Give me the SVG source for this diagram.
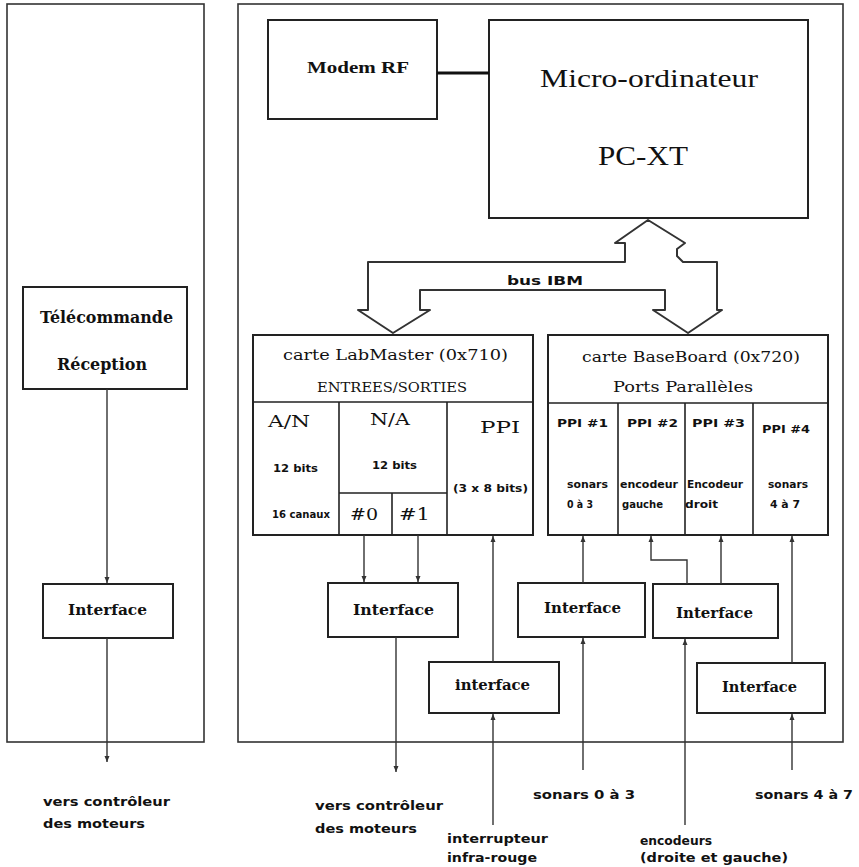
<svg xmlns="http://www.w3.org/2000/svg" width="859" height="867" viewBox="0 0 859 867">
<style>
.panel{fill:none;stroke:#333;stroke-width:1.6}
.box{fill:#fff;stroke:#222;stroke-width:2}
.div{fill:none;stroke:#222;stroke-width:1.6}
.conn{fill:none;stroke:#333;stroke-width:1.4}
.bus{fill:none;stroke:#333;stroke-width:2;stroke-linejoin:round}
.serif{font-family:"Liberation Serif","DejaVu Serif",serif;fill:#111}
.dserif{font-family:"DejaVu Serif","Liberation Serif",serif;fill:#111}
.lbl{font-family:"DejaVu Sans","Liberation Sans",sans-serif;font-weight:bold;fill:#111}
</style>
<defs>
<marker id="ah" viewBox="0 0 6 6" refX="6" refY="3" markerWidth="6" markerHeight="6" markerUnits="userSpaceOnUse" orient="auto">
<path d="M0,0.5 L6,3 L0,5.5z" fill="#333"/>
</marker>
</defs>
<rect width="859" height="867" fill="#fff"/>

<!-- enclosures: remote side and robot side -->
<g id="remote-side"><rect class="panel" x="7" y="4" width="197" height="738"/></g>
<g id="robot-side"><rect class="panel" x="238" y="4" width="605" height="738"/></g>

<g id="modem">
<rect class="box" x="268" y="20" width="169" height="99"/>
<text class="serif" x="307" y="73" font-size="17" font-weight="bold" textLength="102" lengthAdjust="spacingAndGlyphs">Modem RF</text>
</g>

<g id="pc">
<rect class="box" x="489" y="20" width="319" height="198"/>
<text class="serif" x="540" y="87" font-size="26" textLength="218" lengthAdjust="spacingAndGlyphs">Micro-ordinateur</text>
<text class="serif" x="598" y="165" font-size="27" textLength="90" lengthAdjust="spacingAndGlyphs">PC-XT</text>
</g>

<g id="labmaster">
<rect class="box" x="253" y="335" width="280" height="200"/>
<path class="div" d="M253,402H533M339,402V535M447,402V535M339,493H447M392,493V535"/>
<text class="dserif" x="283" y="360" font-size="15" textLength="225" lengthAdjust="spacingAndGlyphs">carte LabMaster (0x710)</text>
<text class="dserif" x="317" y="392" font-size="13" textLength="150" lengthAdjust="spacingAndGlyphs">ENTREES/SORTIES</text>
<text class="dserif" x="268" y="427" font-size="17" textLength="42" lengthAdjust="spacingAndGlyphs">A/N</text>
<text class="dserif" x="370" y="425" font-size="17" textLength="40" lengthAdjust="spacingAndGlyphs">N/A</text>
<text class="dserif" x="480" y="433" font-size="17" textLength="40" lengthAdjust="spacingAndGlyphs">PPI</text>
<text class="lbl" x="273" y="472" font-size="10" textLength="45" lengthAdjust="spacingAndGlyphs">12 bits</text>
<text class="lbl" x="372" y="469" font-size="10" textLength="45" lengthAdjust="spacingAndGlyphs">12 bits</text>
<text class="lbl" x="453" y="492" font-size="10" textLength="75" lengthAdjust="spacingAndGlyphs">(3 x 8 bits)</text>
<text class="lbl" x="272" y="518" font-size="10" textLength="58" lengthAdjust="spacingAndGlyphs">16 canaux</text>
<text class="dserif" x="350" y="520" font-size="17" textLength="28" lengthAdjust="spacingAndGlyphs">#0</text>
<text class="dserif" x="399" y="520" font-size="17" textLength="31" lengthAdjust="spacingAndGlyphs">#1</text>
</g>

<g id="baseboard">
<rect class="box" x="548" y="335" width="280" height="200"/>
<path class="div" d="M548,403H828M618,403V535M685,403V535M753,403V535"/>
<text class="dserif" x="582" y="362" font-size="15" textLength="218" lengthAdjust="spacingAndGlyphs">carte BaseBoard (0x720)</text>
<text class="dserif" x="613" y="392" font-size="15" textLength="140" lengthAdjust="spacingAndGlyphs">Ports Parallèles</text>
<text class="lbl" x="557" y="427" font-size="11" textLength="51" lengthAdjust="spacingAndGlyphs">PPI #1</text>
<text class="lbl" x="627" y="427" font-size="11" textLength="51" lengthAdjust="spacingAndGlyphs">PPI #2</text>
<text class="lbl" x="692" y="427" font-size="11" textLength="53" lengthAdjust="spacingAndGlyphs">PPI #3</text>
<text class="lbl" x="762" y="433" font-size="11" textLength="48" lengthAdjust="spacingAndGlyphs">PPI #4</text>
<text class="lbl" x="567" y="488" font-size="10" textLength="41" lengthAdjust="spacingAndGlyphs">sonars</text>
<text class="lbl" x="567" y="508" font-size="10" textLength="26" lengthAdjust="spacingAndGlyphs">0 à 3</text>
<text class="lbl" x="620" y="488" font-size="10" textLength="58" lengthAdjust="spacingAndGlyphs">encodeur</text>
<text class="lbl" x="622" y="508" font-size="10" textLength="41" lengthAdjust="spacingAndGlyphs">gauche</text>
<text class="lbl" x="687" y="488" font-size="10" textLength="56" lengthAdjust="spacingAndGlyphs">Encodeur</text>
<text class="lbl" x="685" y="508" font-size="10" textLength="33" lengthAdjust="spacingAndGlyphs">droit</text>
<text class="lbl" x="768" y="488" font-size="10" textLength="40" lengthAdjust="spacingAndGlyphs">sonars</text>
<text class="lbl" x="770" y="508" font-size="10" textLength="30" lengthAdjust="spacingAndGlyphs">4 à 7</text>
</g>

<g id="telecommande">
<rect class="box" x="23" y="287" width="164" height="102"/>
<text class="dserif" x="40" y="323" font-size="16" font-weight="bold" textLength="133" lengthAdjust="spacingAndGlyphs">Télécommande</text>
<text class="dserif" x="57" y="370" font-size="16" font-weight="bold" textLength="90" lengthAdjust="spacingAndGlyphs">Réception</text>
</g>

<g id="interface-remote">
<rect class="box" x="43" y="584" width="130" height="54"/>
<text class="dserif" x="68" y="615" font-size="15" font-weight="bold" textLength="79" lengthAdjust="spacingAndGlyphs">Interface</text>
</g>

<g id="interface-moteurs">
<rect class="box" x="328" y="583" width="130" height="54"/>
<text class="dserif" x="353" y="615" font-size="15" font-weight="bold" textLength="81" lengthAdjust="spacingAndGlyphs">Interface</text>
</g>

<g id="interface-ir">
<rect class="box" x="429" y="662" width="130" height="51"/>
<text class="dserif" x="455" y="690" font-size="15" font-weight="bold" textLength="75" lengthAdjust="spacingAndGlyphs">interface</text>
</g>

<g id="interface-sonars-0-3">
<rect class="box" x="518" y="583" width="127" height="54"/>
<text class="dserif" x="544" y="613" font-size="15" font-weight="bold" textLength="77" lengthAdjust="spacingAndGlyphs">Interface</text>
</g>

<g id="interface-encodeurs">
<rect class="box" x="653" y="584" width="125" height="54"/>
<text class="dserif" x="676" y="618" font-size="15" font-weight="bold" textLength="77" lengthAdjust="spacingAndGlyphs">Interface</text>
</g>

<g id="interface-sonars-4-7">
<rect class="box" x="697" y="663" width="128" height="50"/>
<text class="dserif" x="722" y="692" font-size="15" font-weight="bold" textLength="75" lengthAdjust="spacingAndGlyphs">Interface</text>
</g>

<!-- signal ends outside the enclosures -->
<g id="external-labels">
<text class="lbl" x="43" y="806" font-size="12" textLength="127" lengthAdjust="spacingAndGlyphs">vers contrôleur</text>
<text class="lbl" x="43" y="828" font-size="12" textLength="102" lengthAdjust="spacingAndGlyphs">des moteurs</text>
<text class="lbl" x="315" y="810" font-size="12" textLength="128" lengthAdjust="spacingAndGlyphs">vers contrôleur</text>
<text class="lbl" x="315" y="833" font-size="12" textLength="102" lengthAdjust="spacingAndGlyphs">des moteurs</text>
<text class="lbl" x="533" y="799" font-size="12" textLength="102" lengthAdjust="spacingAndGlyphs">sonars 0 à 3</text>
<text class="lbl" x="755" y="799" font-size="12" textLength="98" lengthAdjust="spacingAndGlyphs">sonars 4 à 7</text>
<text class="lbl" x="447" y="843" font-size="12" textLength="101" lengthAdjust="spacingAndGlyphs">interrupteur</text>
<text class="lbl" x="447" y="862" font-size="12" textLength="90" lengthAdjust="spacingAndGlyphs">infra-rouge</text>
<text class="lbl" x="640" y="845" font-size="12" textLength="72" lengthAdjust="spacingAndGlyphs">encodeurs</text>
<text class="lbl" x="640" y="862" font-size="12" textLength="148" lengthAdjust="spacingAndGlyphs">(droite et gauche)</text>
</g>

<g id="connectors">
<!-- modem link -->
<line x1="437" y1="73" x2="489" y2="73" stroke="#111" stroke-width="3"/>
<!-- IBM bus, drawn as a wide outlined arrow -->
<polygon class="bus" points="648,220 615,243 625,243 625,262 368,262 368,310 358,310 393,333 430,310 420,310 420,290 665,290 665,310 653,310 688,333 722,310 717,310 717,262 683,262 677,256 677,249 685,243"/>
<text class="lbl" x="507" y="285" font-size="13" textLength="76" lengthAdjust="spacingAndGlyphs">bus IBM</text>
<!-- remote side -->
<line class="conn" x1="107" y1="389" x2="107" y2="583" marker-end="url(#ah)"/>
<line class="conn" x1="107" y1="638" x2="107" y2="762" marker-end="url(#ah)"/>
<!-- motor outputs -->
<line class="conn" x1="364" y1="535" x2="364" y2="582" marker-end="url(#ah)"/>
<line class="conn" x1="418" y1="535" x2="418" y2="582" marker-end="url(#ah)"/>
<line class="conn" x1="396" y1="637" x2="396" y2="772" marker-end="url(#ah)"/>
<!-- infrared switch -->
<line class="conn" x1="493" y1="825" x2="493" y2="714" marker-end="url(#ah)"/>
<line class="conn" x1="493" y1="662" x2="493" y2="536" marker-end="url(#ah)"/>
<!-- sonars 0-3 -->
<line class="conn" x1="583" y1="770" x2="583" y2="638" marker-end="url(#ah)"/>
<line class="conn" x1="583" y1="583" x2="583" y2="536" marker-end="url(#ah)"/>
<!-- encoders -->
<line class="conn" x1="685" y1="825" x2="685" y2="639" marker-end="url(#ah)"/>
<line class="conn" x1="721" y1="584" x2="721" y2="536" marker-end="url(#ah)"/>
<path class="conn" d="M687,584V560H651V536" stroke-width="2.4" stroke="#555" marker-end="url(#ah)"/>
<!-- sonars 4-7 -->
<line class="conn" x1="792" y1="770" x2="792" y2="714" marker-end="url(#ah)"/>
<line class="conn" x1="792" y1="663" x2="792" y2="536" marker-end="url(#ah)"/>
</g>
</svg>
